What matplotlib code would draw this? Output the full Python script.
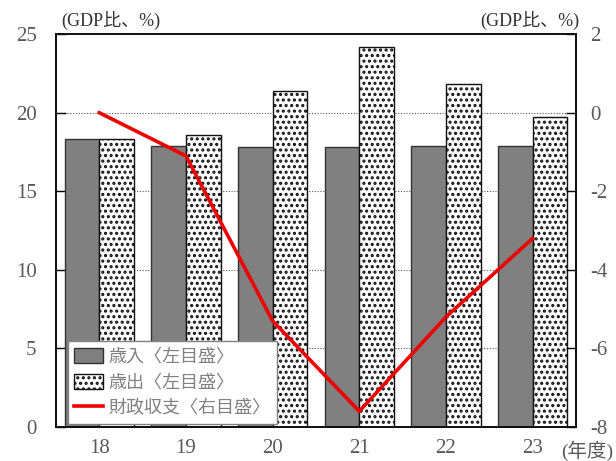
import matplotlib
matplotlib.use("Agg")
import matplotlib.pyplot as plt
import numpy as np

plt.rcParams['font.family'] = ['Liberation Serif', 'Noto Sans CJK JP']
plt.rcParams['hatch.linewidth'] = 1.5

years = ['18', '19', '20', '21', '22', '23']
revenue = [18.3, 17.9, 17.8, 17.85, 17.9, 17.9]
expenditure = [18.3, 18.6, 21.4, 24.2, 21.8, 19.7]
balance = [0.0, -1.1, -5.3, -7.6, -5.2, -3.2]

left_ticks = [0, 5, 10, 15, 20, 25]
right_ticks = [-8, -6, -4, -2, 0, 2]

TXT = '#595959'
fig = plt.figure(figsize=(6.16, 4.61), dpi=100)
ax = fig.add_axes([0.0909, 0.0738, 0.844, 0.852])

x = np.arange(len(years))
w = 0.4
ax.bar(x - w / 2, revenue, w, color='#808080', edgecolor='#333333', linewidth=1.0,
       label='歳入〈左目盛〉', zorder=2)
ax.bar(x + w / 2, expenditure, w, color='white', edgecolor='#111111', linewidth=1.0,
       hatch='...', label='歳出〈左目盛〉', zorder=2)

ax.set_xlim(-0.5, len(years) - 0.5)
ax.set_ylim(0, 25)
ax.set_yticks(left_ticks)
ax.set_xticks(x)
ax.set_xticklabels(years)
for v in left_ticks[1:-1]:
    ax.axhline(v, color='#555555', linestyle=(0, (1, 1.5)), linewidth=0.8, zorder=1)
ax.tick_params(axis='y', direction='in', length=7, width=1, labelsize=15,
               labelcolor=TXT, pad=14)
ax.tick_params(axis='x', length=0, labelsize=15, labelcolor=TXT, pad=9)
for s in ax.spines.values():
    s.set_linewidth(1.3)
    s.set_color('#111111')

ax2 = ax.twinx()
ax2.set_ylim(-8, 2)
ax2.set_yticks(right_ticks)
ax2.set_yticklabels([str(t) for t in right_ticks])
ax2.tick_params(axis='y', direction='in', length=7, width=1, labelsize=15,
                labelcolor=TXT, pad=10)
line, = ax2.plot(x, balance, color='#ee0000', linewidth=2.6,
                 label='財政収支〈右目盛〉', zorder=3)
for s in ax2.spines.values():
    s.set_linewidth(1.3)
    s.set_color('#111111')

h1, l1 = ax.get_legend_handles_labels()
leg = ax2.legend(h1 + [line], l1 + ['財政収支〈右目盛〉'], loc='lower left',
                 bbox_to_anchor=(0.012, -0.005), fancybox=False, framealpha=1,
                 edgecolor='#808080', fontsize=13, labelcolor='#808080',
                 handlelength=1.6, handleheight=0.9, handletextpad=0.3,
                 borderpad=0.35, labelspacing=0.45, borderaxespad=0.3)
leg.get_frame().set_linewidth(1.0)
leg.set_zorder(5)

fig.text(0.1, 0.955, '(GDP比、%)', fontsize=13, color='#333333', ha='left', va='center')
fig.text(0.94, 0.955, '(GDP比、%)', fontsize=13, color='#333333', ha='right', va='center')
fig.text(0.995, 0.022, '(年度)', fontsize=14, color=TXT, ha='right', va='center')

fig.savefig('out.png', dpi=100)
